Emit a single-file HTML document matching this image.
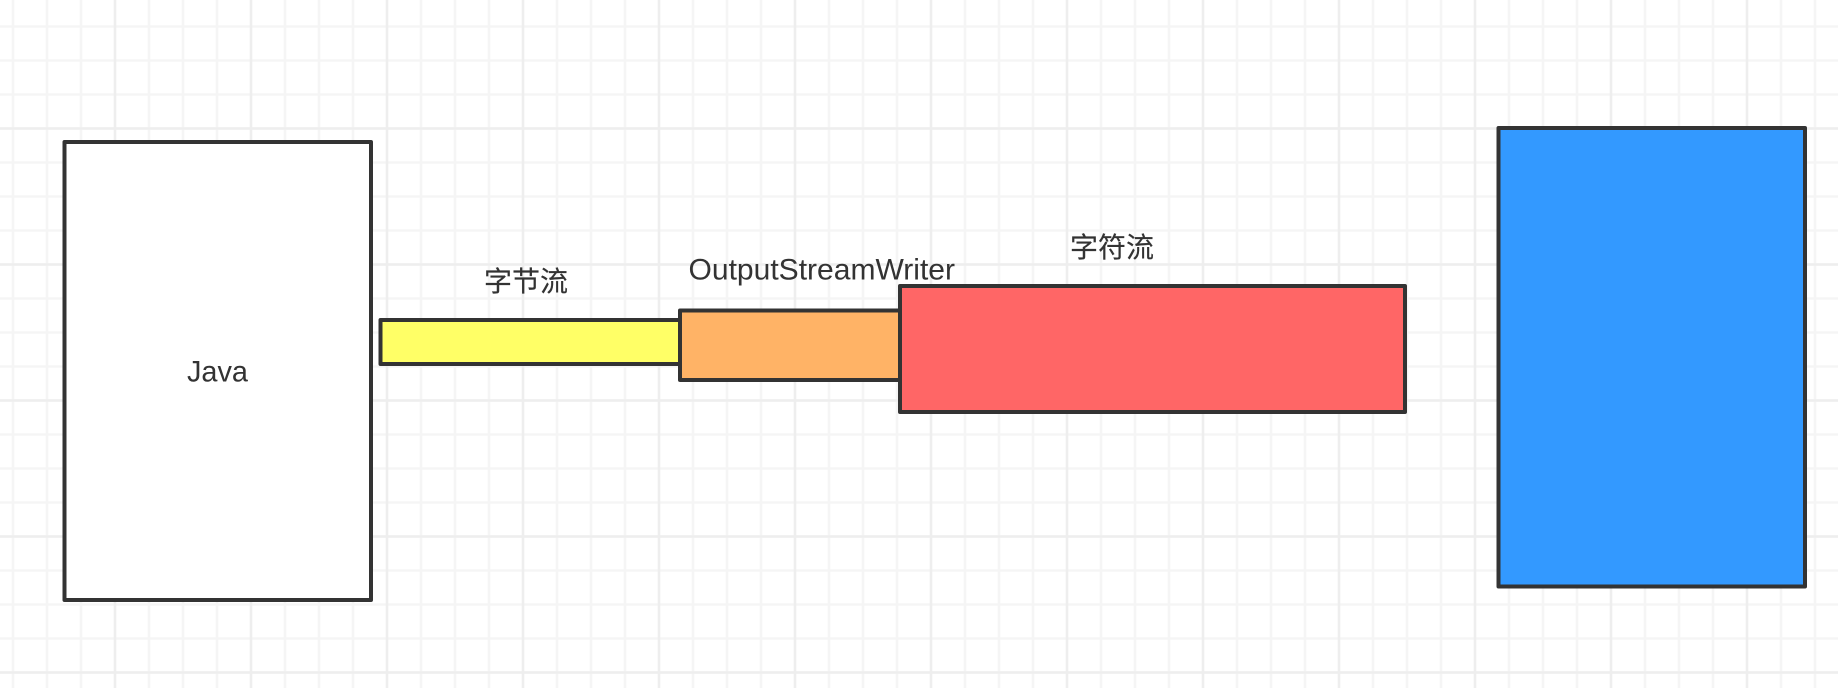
<!DOCTYPE html>
<html>
<head>
<meta charset="utf-8">
<style>
html,body{margin:0;padding:0;background:#fff;width:1838px;height:688px;overflow:hidden}
svg{display:block}
text{fill:#333;font-family:"Liberation Sans","Noto Sans CJK SC",sans-serif}
.l{font-size:29.5px}
.c{font-family:"Noto Sans CJK SC","Liberation Sans",sans-serif;font-size:28px;stroke:#333;stroke-width:.15}
</style>
</head>
<body>
<svg width="1838" height="688" viewBox="0 0 1838 688" xmlns="http://www.w3.org/2000/svg">
<defs>
<pattern id="vm" patternUnits="userSpaceOnUse" x="-4" y="0" width="34" height="688"><rect x="15.75" y="0" width="2.5" height="688" fill="#f5f5f5"/></pattern>
<pattern id="hm" patternUnits="userSpaceOnUse" x="0" y="9.5" width="1838" height="34"><rect x="0" y="15.75" width="1838" height="2.5" fill="#f5f5f5"/></pattern>
<pattern id="vM" patternUnits="userSpaceOnUse" x="47" y="0" width="136" height="688"><rect x="66.75" y="0" width="2.5" height="688" fill="#eeeeee"/></pattern>
<pattern id="hM" patternUnits="userSpaceOnUse" x="0" y="60.5" width="1838" height="136"><rect x="0" y="66.75" width="1838" height="2.5" fill="#eeeeee"/></pattern>
</defs>
<rect width="1838" height="688" fill="#fff"/>
<rect width="1838" height="688" fill="url(#vm)"/>
<rect width="1838" height="688" fill="url(#hm)"/>
<rect width="1838" height="688" fill="url(#vM)"/>
<rect width="1838" height="688" fill="url(#hM)"/>
<g stroke="#333" stroke-width="4" stroke-linejoin="round">
<rect x="64.5" y="142" width="306.5" height="458" fill="#fff"/>
<rect x="380.5" y="320" width="299.5" height="44" fill="#ffff66"/>
<rect x="680" y="310.5" width="220" height="69.5" fill="#ffb366"/>
<rect x="900" y="286" width="505" height="126" fill="#ff6666"/>
<rect x="1498.5" y="128" width="306.5" height="458.5" fill="#3399ff"/>
</g>
<text class="l" x="187" y="381.5" textLength="61" lengthAdjust="spacingAndGlyphs">Java</text>
<text class="c" x="484" y="291">字节流</text>
<text class="l" x="688.5" y="279.5" textLength="266.5" lengthAdjust="spacingAndGlyphs">OutputStreamWriter</text>
<text class="c" x="1070" y="257">字符流</text>
</svg>
</body>
</html>
